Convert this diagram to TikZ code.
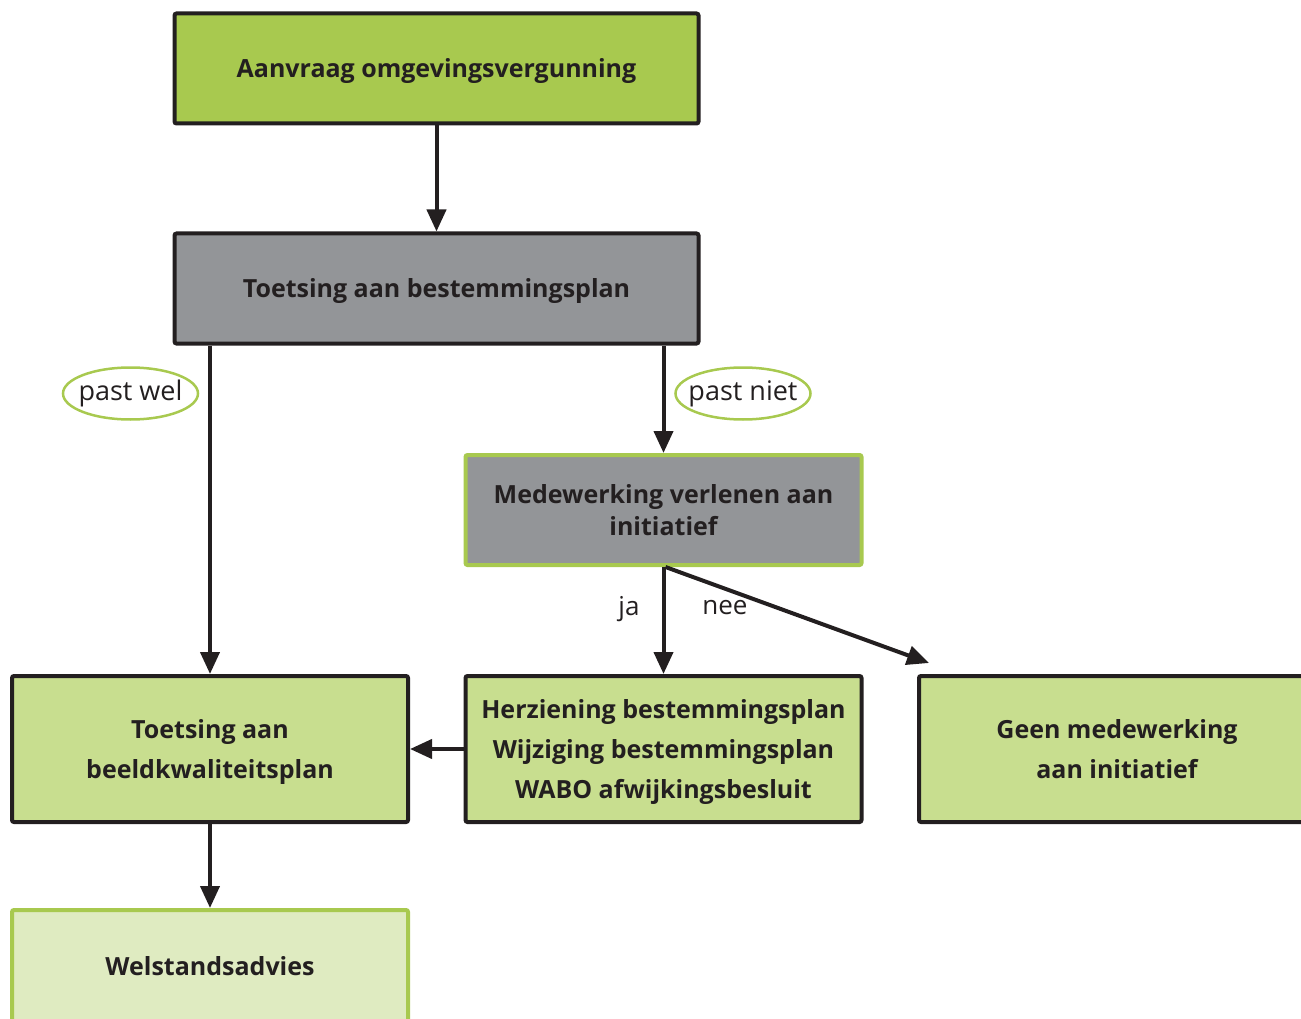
\documentclass[tikz,border=0pt]{standalone}
\usepackage{fontspec}
\setmainfont{Open Sans}
\usetikzlibrary{arrows.meta,shapes.geometric}
\definecolor{tgreen}{HTML}{A8C94F}
\definecolor{tgray}{HTML}{939598}
\definecolor{tlight}{HTML}{C8DE8F}
\definecolor{tpale}{HTML}{DFEBC1}
\definecolor{tdark}{HTML}{231F20}
\tikzset{
  box/.style={draw=tdark, line width=4pt, rounded corners=2pt, inner sep=0pt},
  txt/.style={align=center, inner sep=0pt, text=tdark, font=\fontsize{25}{40}\selectfont\bfseries},
  arr/.style={draw=tdark, line width=4pt, -{Triangle[length=22pt,width=19pt]}},
  tag/.style={ellipse, draw=tgreen, line width=2.5pt, minimum width=135pt, minimum height=52pt,
    inner sep=-8pt, text=tdark, font=\fontsize{27}{30}\selectfont},
  lab/.style={text=tdark, font=\fontsize{26}{30}\selectfont, inner sep=0pt}
}
\begin{document}
\begin{tikzpicture}[x=1pt,y=-1pt]
\useasboundingbox (0,0) rectangle (1301,1019);
\clip (0,0) rectangle (1301,1019);
\node[box, fill=tgreen, minimum width=524pt, minimum height=110pt,
  label={[txt,yshift=-3pt]center:Aanvraag omgevingsvergunning}] (aan) at (436.5,68.5) {};
\node[box, fill=tgray, minimum width=524pt, minimum height=110pt,
  label={[txt,yshift=-3pt]center:Toetsing aan bestemmingsplan}] (toets) at (436.5,288.5) {};
\node[box, fill=tgray, draw=tgreen, minimum width=396pt, minimum height=110pt,
  label={[txt,font=\fontsize{25}{32}\selectfont\bfseries,yshift=0pt]center:{Medewerking verlenen aan\\initiatief}}] (med) at (663.5,510) {};
\node[box, fill=tlight, minimum width=396pt, minimum height=146pt,
  label={[txt,yshift=-3pt]center:{Toetsing aan\\beeldkwaliteitsplan}}] (beeld) at (210,749) {};
\node[box, fill=tlight, minimum width=396pt, minimum height=146pt,
  label={[txt,yshift=-3pt]center:{Herziening bestemmingsplan\\Wijziging bestemmingsplan\\WABO afwijkingsbesluit}}] (herz) at (663.5,749) {};
\node[box, fill=tlight, minimum width=396pt, minimum height=146pt,
  label={[txt,yshift=0pt]center:{Geen medewerking\\aan initiatief}}] (geen) at (1117,749) {};
\node[box, fill=tpale, draw=tgreen, minimum width=396pt, minimum height=112pt,
  label={[txt,yshift=0pt]center:Welstandsadvies}] (welst) at (210,966) {};

\node[tag] (pw) at (130.5,393.5) {past wel};
\node[tag] (pn) at (743,393.5) {past niet};
\node[lab] (ja) at (629,609) {ja};
\node[lab] (nee) at (725,608) {nee};

\coordinate (neeend) at (929,663);

\draw[arr] (aan.south) -- (toets.north);
\draw[arr] (toets.south -| beeld.north) -- (beeld.north);
\draw[arr] (toets.south -| med.north) -- (med.north);
\draw[arr] (med.south) -- (herz.north);
\draw[arr] ([xshift=2pt]med.south) -- (neeend);
\draw[arr] (herz.west) -- (beeld.east);
\draw[arr] (beeld.south) -- (welst.north);
\end{tikzpicture}
\end{document}
